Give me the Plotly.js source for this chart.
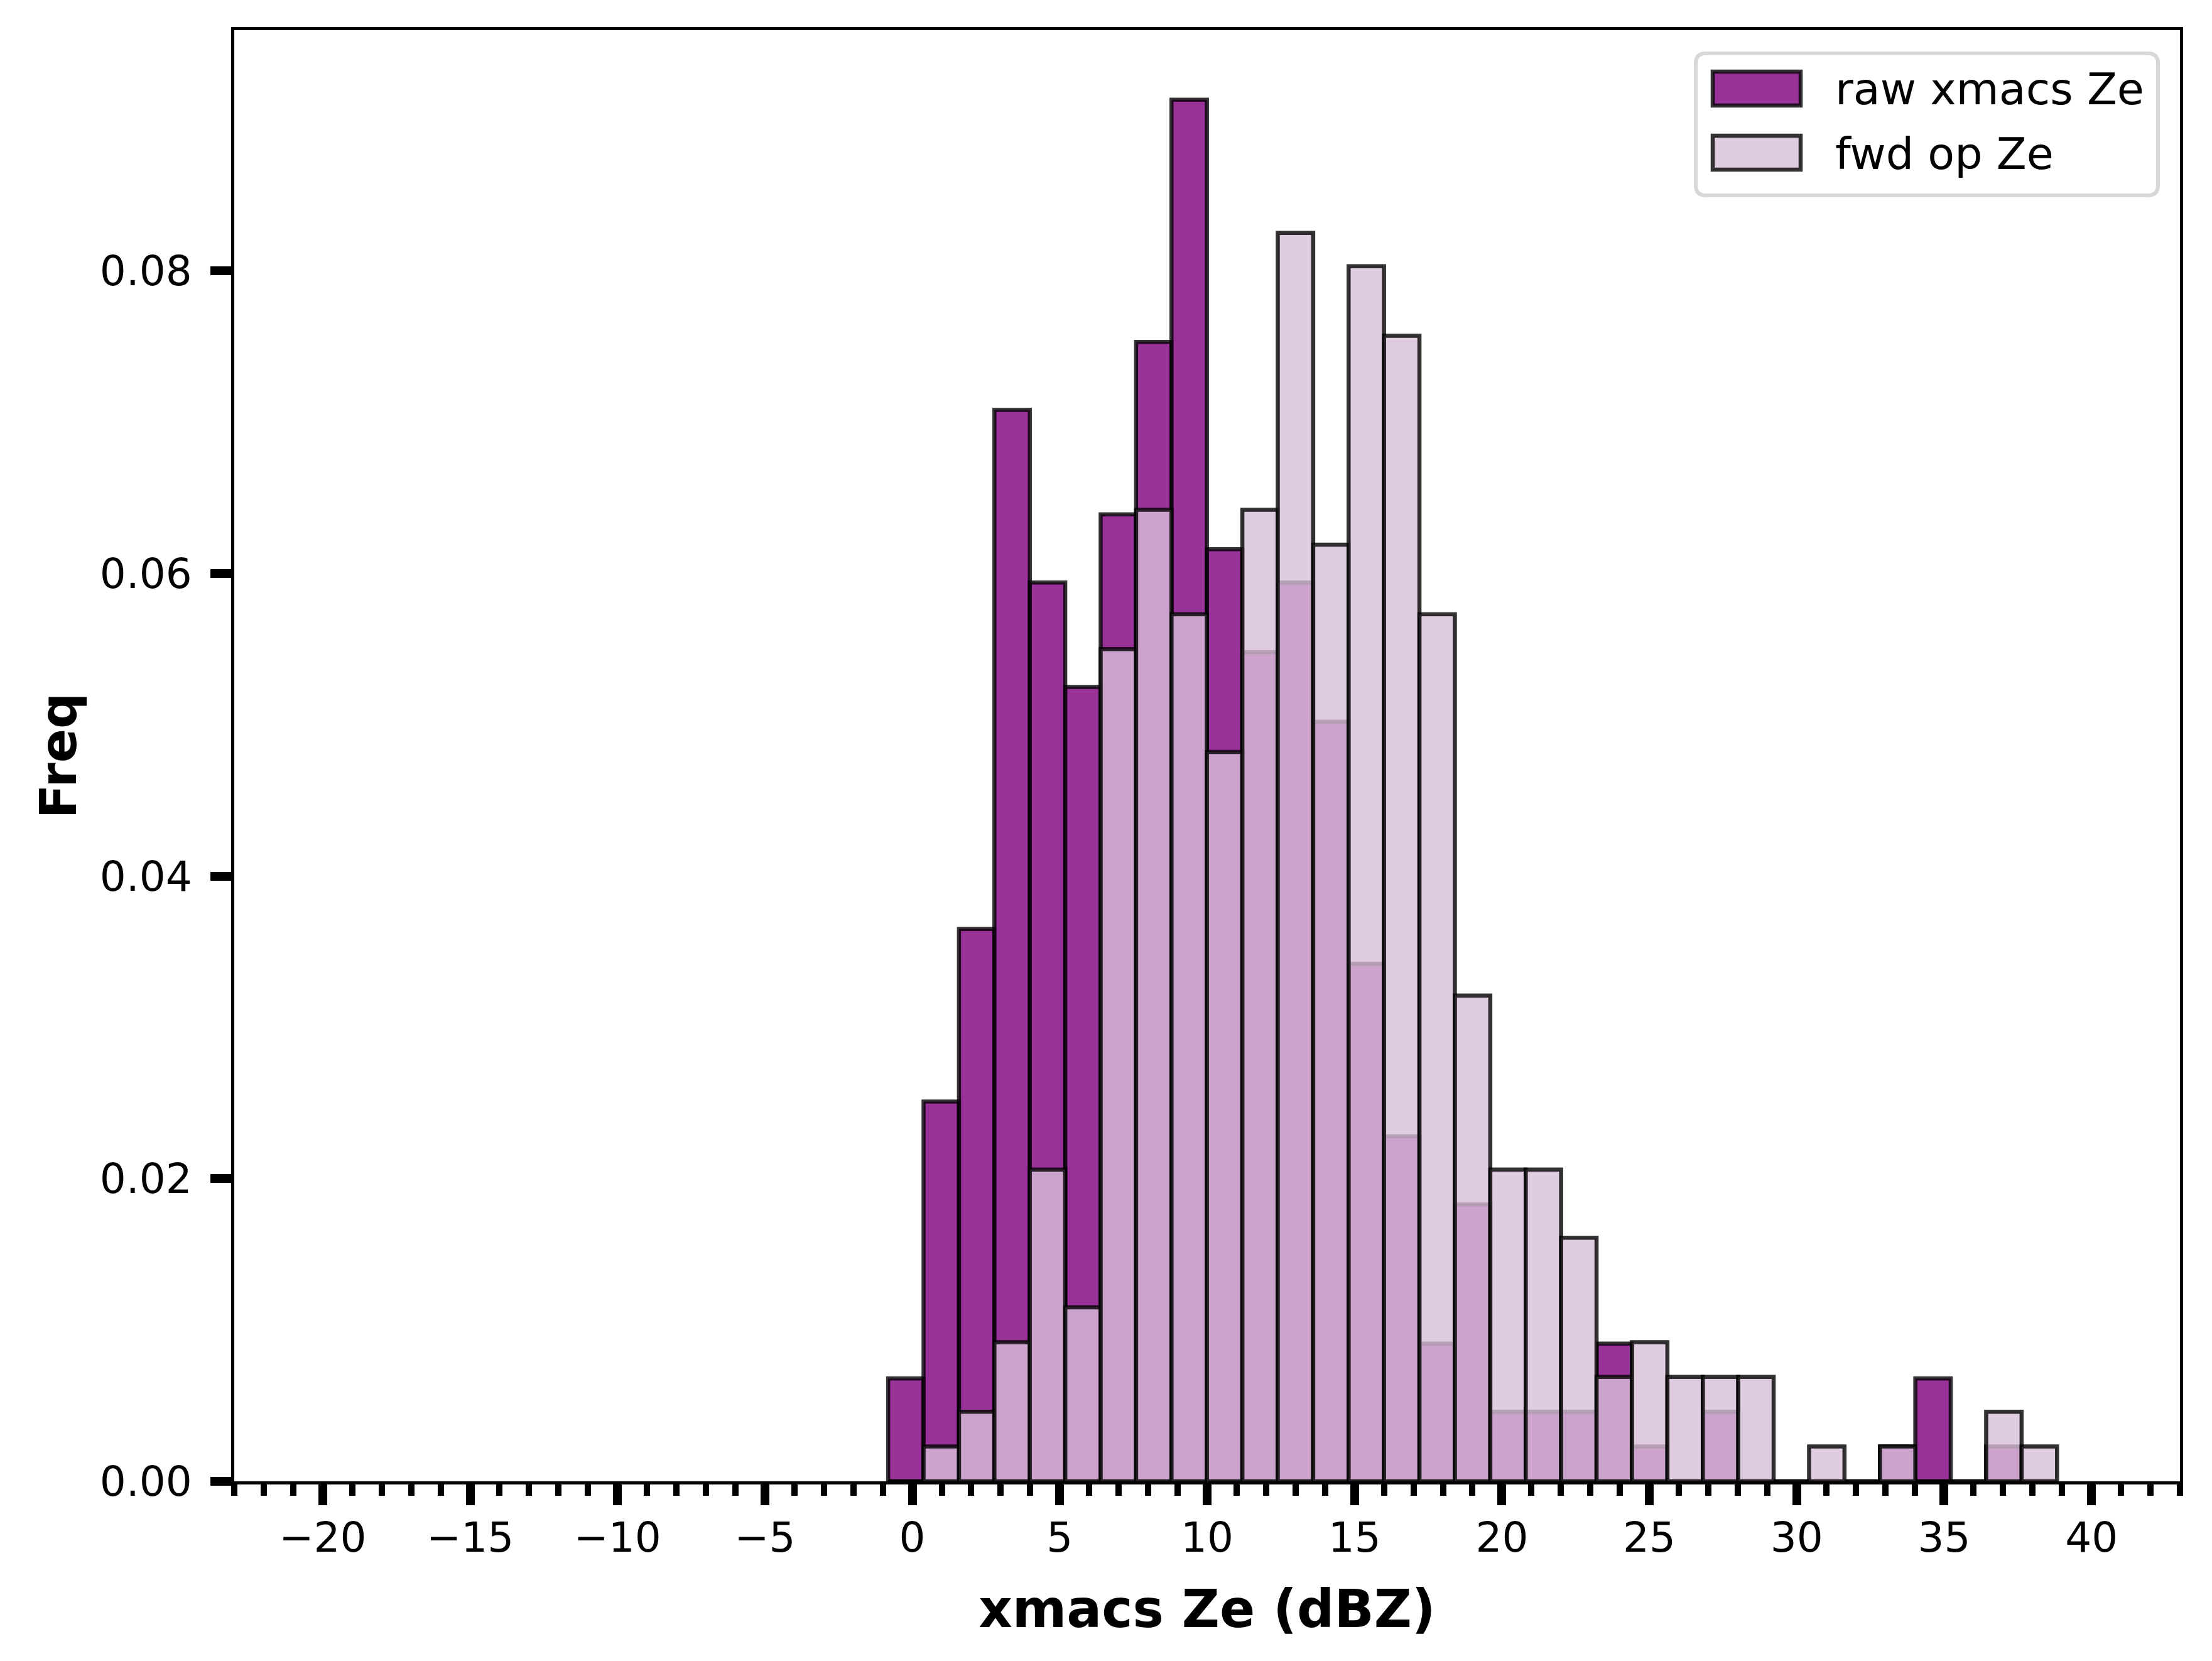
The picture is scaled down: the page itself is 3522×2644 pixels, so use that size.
<!DOCTYPE html>
<html>
<head>
<meta charset="utf-8">
<script src="https://cdn.plot.ly/plotly-3.0.1.min.js"></script>
<style>html,body{margin:0;padding:0;background:#fff;}#chart{width:3522px;height:2644px;}</style>
</head>
<body>
<div id="chart"></div>
<script>
// ---- data ----
const binStart = -0.82;          // left edge of first histogram bin (dBZ)
const binWidth = 1.2015;         // histogram bin width (dBZ)
const rawFreq = [0.0068, 0.0251, 0.0365, 0.0708, 0.0594, 0.0525, 0.0639, 0.0753, 0.0913, 0.0616,
                 0.0548, 0.0594, 0.0502, 0.0342, 0.0228, 0.0091, 0.0183, 0.0046, 0.0046, 0.0046,
                 0.0091, 0.0023, 0, 0.0046, 0, 0, 0, 0, 0.0023, 0.0068, 0, 0.0023, 0];
const fwdFreq = [0, 0.0023, 0.0046, 0.0092, 0.0206, 0.0115, 0.0550, 0.0642, 0.0573, 0.0482,
                 0.0642, 0.0825, 0.0619, 0.0803, 0.0757, 0.0573, 0.0321, 0.0206, 0.0206, 0.0161,
                 0.0069, 0.0092, 0.0069, 0.0069, 0.0069, 0, 0.0023, 0, 0.0023, 0, 0, 0.0046, 0.0023];
const seriesNames = ['raw xmacs Ze', 'fwd op Ze'];
const xTickVals = [-20, -15, -10, -5, 0, 5, 10, 15, 20, 25, 30, 35, 40];
const xTickText = ['\u221220', '\u221215', '\u221210', '\u22125', '0', '5', '10', '15', '20', '25', '30', '35', '40'];
const yTickVals = [0, 0.02, 0.04, 0.06, 0.08];
const yTickText = ['0.00', '0.02', '0.04', '0.06', '0.08'];
const xTitle = 'xmacs Ze (dBZ)';
const yTitle = 'Freq';

// ---- styling ----
const rawColor = 'rgba(128,0,128,0.8)';
const fwdColor = 'rgba(216,191,216,0.8)';
const edgeColor = 'rgba(0,0,0,0.8)';
const FONT = 'DejaVu Sans, sans-serif';
const EDGE_W = 6.5;

const centers = rawFreq.map((_, i) => binStart + (i + 0.5) * binWidth);

const traces = [
  {type: 'bar', name: seriesNames[0], x: centers, y: rawFreq, width: binWidth,
   marker: {color: rawColor, line: {color: edgeColor, width: EDGE_W}}, showlegend: false, hoverinfo: 'x+y'},
  {type: 'bar', name: seriesNames[1], x: centers, y: fwdFreq, width: binWidth,
   marker: {color: fwdColor, line: {color: edgeColor, width: EDGE_W}}, showlegend: false, hoverinfo: 'x+y'}
];

// plot area in page pixels
const PL = 373, PR = 3471, PT = 48, PB = 2358;
const fx = px => (px - PL) / (PR - PL);
const fy = py => (PB - py) / (PB - PT);

function roundRect(x0, y0, x1, y1, r) {
  const X = fx, Y = fy;
  return 'M' + X(x0 + r) + ',' + Y(y0) +
    ' L' + X(x1 - r) + ',' + Y(y0) +
    ' Q' + X(x1) + ',' + Y(y0) + ' ' + X(x1) + ',' + Y(y0 + r) +
    ' L' + X(x1) + ',' + Y(y1 - r) +
    ' Q' + X(x1) + ',' + Y(y1) + ' ' + X(x1 - r) + ',' + Y(y1) +
    ' L' + X(x0 + r) + ',' + Y(y1) +
    ' Q' + X(x0) + ',' + Y(y1) + ' ' + X(x0) + ',' + Y(y1 - r) +
    ' L' + X(x0) + ',' + Y(y0 + r) +
    ' Q' + X(x0) + ',' + Y(y0) + ' ' + X(x0 + r) + ',' + Y(y0) + ' Z';
}

const legendItems = [
  {color: rawColor, y0: 114, y1: 168, ty: 142},
  {color: fwdColor, y0: 216, y1: 270, ty: 245}
];

const shapes = [
  {type: 'path', xref: 'paper', yref: 'paper', layer: 'above',
   path: roundRect(2700, 85, 3436, 311, 16),
   fillcolor: 'rgba(255,255,255,0.8)', line: {color: '#d8d8d8', width: 6}}
];
legendItems.forEach(it => shapes.push({
  type: 'rect', xref: 'paper', yref: 'paper', layer: 'above',
  x0: fx(2727), x1: fx(2867), y0: fy(it.y1), y1: fy(it.y0),
  fillcolor: it.color, line: {color: edgeColor, width: EDGE_W}
}));
const annotations = legendItems.map((it, i) => ({
  xref: 'paper', yref: 'paper', x: fx(2920), y: fy(it.ty), xanchor: 'left', yanchor: 'middle',
  text: seriesNames[i], showarrow: false, font: {family: FONT, size: 70, color: '#000'}
}));

const layout = {
  width: 3522, height: 2644,
  margin: {l: PL, r: 3522 - PR, t: PT, b: 2644 - PB, pad: 0},
  paper_bgcolor: '#fff', plot_bgcolor: '#fff',
  barmode: 'overlay', bargap: 0,
  font: {family: FONT, color: '#000'},
  showlegend: false,
  xaxis: {
    range: [-23, 43], tickmode: 'array', tickvals: xTickVals, ticktext: xTickText,
    ticks: 'outside', ticklen: 33, tickwidth: 14, tickcolor: '#000',
    minor: {tickmode: 'linear', tick0: 0, dtick: 1, ticks: 'outside', ticklen: 18, tickwidth: 10, tickcolor: '#000', showgrid: false},
    showline: true, linecolor: '#000', linewidth: 5, mirror: true,
    showgrid: false, zeroline: false, automargin: false,
    tickfont: {family: FONT, size: 66, color: '#000'}, ticklabelstandoff: -5,
    title: {text: xTitle, font: {family: FONT, size: 83, weight: 'bold', color: '#000'}, standoff: 48}
  },
  yaxis: {
    range: [0, 0.0959], tickmode: 'array', tickvals: yTickVals, ticktext: yTickText,
    ticks: 'outside', ticklen: 33, tickwidth: 14, tickcolor: '#000',
    showline: true, linecolor: '#000', linewidth: 5, mirror: true,
    showgrid: false, zeroline: false, automargin: false,
    tickfont: {family: FONT, size: 66, color: '#000'}, ticklabelstandoff: 16,
    title: {text: yTitle, font: {family: FONT, size: 80, weight: 'bold', color: '#000'}, standoff: 12}
  },
  shapes: shapes,
  annotations: annotations
};

Plotly.newPlot('chart', traces, layout, {staticPlot: true, displayModeBar: false});
</script>
</body>
</html>
